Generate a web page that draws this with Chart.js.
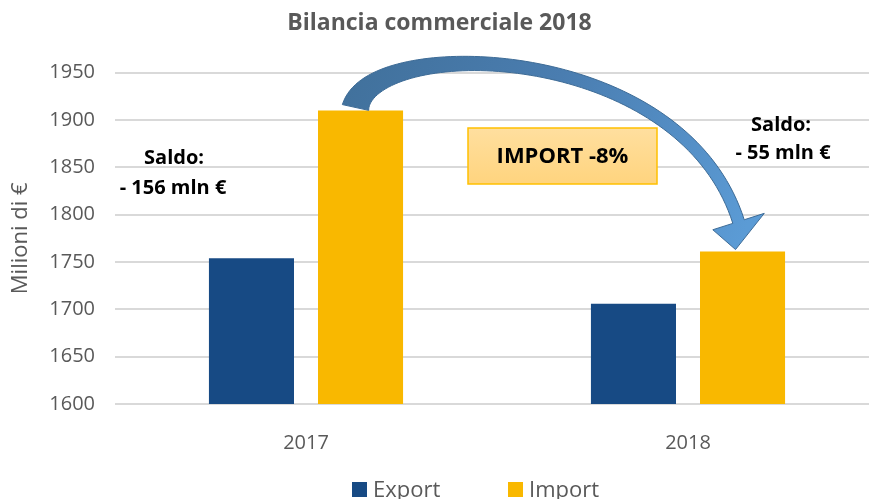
<!DOCTYPE html>
<html lang="it">
<head>
    <meta charset="utf-8">
    <title>Bilancia commerciale 2018</title>
    <style>
        html, body { margin: 0; padding: 0; background: #fff; overflow: hidden; }
        #wrap { width: 880px; height: 499px; }
    </style>
</head>
<body>
    <div id="wrap">
        <canvas id="myChart" width="880" height="499"></canvas>
    </div>

    <script src="https://cdn.jsdelivr.net/npm/chart.js"></script>
    <script>
        // dati
        const anni = ['2017', '2018'];
        const exportVal = [1754, 1706];
        const importVal = [1910, 1761];
        const serie = ['Export', 'Import'];
        const colori = ['#174A84', '#F9B800'];
        const saldoTesti = [['Saldo:', '- 156 mln €'], ['Saldo:', '- 55 mln €']];
        const boxTesto = 'IMPORT -8%';

        const grigio = '#595959';
        const fontBase = "'Open Sans', sans-serif";

        function bez(p0, p1, p2, p3, t) {
            const u = 1 - t;
            return {
                x: u*u*u*p0.x + 3*u*u*t*p1.x + 3*u*t*t*p2.x + t*t*t*p3.x,
                y: u*u*u*p0.y + 3*u*u*t*p1.y + 3*u*t*t*p2.y + t*t*t*p3.y
            };
        }
        function bezD(p0, p1, p2, p3, t) {
            const u = 1 - t;
            return {
                x: 3*u*u*(p1.x-p0.x) + 6*u*t*(p2.x-p1.x) + 3*t*t*(p3.x-p2.x),
                y: 3*u*u*(p1.y-p0.y) + 6*u*t*(p2.y-p1.y) + 3*t*t*(p3.y-p2.y)
            };
        }

        // freccia curva + testi + legenda
        const overlay = {
            id: 'overlay',
            afterDatasetsDraw(chart) {
                const ctx = chart.ctx;
                const bars = chart.getDatasetMeta(1).data;
                const tail = { x: bars[0].x - 5, y: bars[0].y - 3 };
                const tip = { x: bars[1].x - 7, y: bars[1].y - 2 };
                const base = { x: tip.x + 3, y: tip.y - 28 };
                const p1 = { x: tail.x + 16, y: tail.y - 73 };
                const p2 = { x: base.x - 58, y: tail.y - 68 };

                const n = 80;
                const left = [], right = [];
                let lastN;
                for (let i = 0; i <= n; i++) {
                    const t = i / n;
                    const p = bez(tail, p1, p2, base, t);
                    const d = bezD(tail, p1, p2, base, t);
                    const len = Math.hypot(d.x, d.y);
                    const nx = -d.y / len, ny = d.x / len;
                    const w = (12 + 15 * Math.pow(1 - t, 4)) / 2;
                    left.push({ x: p.x + nx * w, y: p.y + ny * w });
                    right.push({ x: p.x - nx * w, y: p.y - ny * w });
                    lastN = { x: nx, y: ny };
                }
                ctx.save();
                ctx.beginPath();
                ctx.moveTo(left[0].x, left[0].y);
                left.forEach(p => ctx.lineTo(p.x, p.y));
                ctx.lineTo(base.x + lastN.x * 27, base.y + lastN.y * 27);
                ctx.lineTo(tip.x, tip.y);
                ctx.lineTo(base.x - lastN.x * 27, base.y - lastN.y * 27);
                for (let i = right.length - 1; i >= 0; i--) ctx.lineTo(right[i].x, right[i].y);
                ctx.closePath();
                const g = ctx.createLinearGradient(tail.x, 60, tip.x, tip.y);
                g.addColorStop(0, '#41719C');
                g.addColorStop(0.45, '#4A7DB0');
                g.addColorStop(1, '#5B9BD5');
                ctx.fillStyle = g;
                ctx.fill();
                ctx.strokeStyle = '#3D6B96';
                ctx.lineWidth = 1;
                ctx.stroke();
                ctx.restore();
            },
            afterDraw(chart) {
                const ctx = chart.ctx;
                const x = chart.scales.x;
                ctx.save();
                ctx.textAlign = 'center';
                ctx.textBaseline = 'middle';
                ctx.fillStyle = '#000';
                ctx.font = "bold 20px " + fontBase;
                // saldo 2017 e 2018
                const c0 = x.getPixelForValue(0), c1 = x.getPixelForValue(1);
                ctx.fillText(saldoTesti[0][0], c0 - 132, 158);
                ctx.fillText(saldoTesti[0][1], c0 - 133, 188);
                ctx.fillText(saldoTesti[1][0], c1 + 93, 125);
                ctx.fillText(saldoTesti[1][1], c1 + 95, 153);

                // box IMPORT
                const bx = 468, by = 128, bw = 189, bh = 56;
                const g = ctx.createLinearGradient(0, by, 0, by + bh);
                g.addColorStop(0, '#FFDF9F');
                g.addColorStop(1, '#FFD47E');
                ctx.fillStyle = g;
                ctx.fillRect(bx, by, bw, bh);
                ctx.strokeStyle = '#FFC000';
                ctx.lineWidth = 1.5;
                ctx.strokeRect(bx, by, bw, bh);
                ctx.fillStyle = '#000';
                ctx.font = "bold 22px " + fontBase;
                ctx.fillText(boxTesto, bx + bw / 2, by + bh / 2 + 1);

                // legenda
                const lx = [352, 508];
                ctx.textAlign = 'left';
                ctx.textBaseline = 'alphabetic';
                ctx.font = "22px " + fontBase;
                serie.forEach((s, i) => {
                    ctx.fillStyle = colori[i];
                    ctx.fillRect(lx[i], 482, 15, 15);
                    ctx.fillStyle = grigio;
                    ctx.fillText(s, lx[i] + 21, 497);
                });
                ctx.restore();
            }
        };

        const config = {
            type: 'bar',
            data: {
                labels: anni,
                datasets: [{
                    label: serie[0],
                    data: exportVal,
                    backgroundColor: colori[0],
                    categoryPercentage: 0.571,
                    barPercentage: 0.78
                }, {
                    label: serie[1],
                    data: importVal,
                    backgroundColor: colori[1],
                    categoryPercentage: 0.571,
                    barPercentage: 0.78
                }]
            },
            options: {
                responsive: false,
                animation: false,
                layout: { padding: { left: 0, right: 1, top: 0, bottom: 0 } },
                plugins: {
                    legend: { display: false },
                    tooltip: { enabled: false },
                    title: {
                        display: true,
                        text: 'Bilancia commerciale 2018',
                        color: grigio,
                        font: { family: fontBase, size: 23, weight: 'bold' },
                        padding: { top: 10, bottom: 35 }
                    }
                },
                scales: {
                    x: {
                        grid: { display: false },
                        border: { display: false },
                        ticks: { color: grigio, font: { family: fontBase, size: 20 }, padding: 19 },
                        afterFit(s) { s.height = 95; }
                    },
                    y: {
                        min: 1600,
                        max: 1950,
                        ticks: {
                            stepSize: 50,
                            color: grigio,
                            font: { family: fontBase, size: 20 },
                            padding: 20,
                            callback: v => String(v)
                        },
                        grid: { color: '#D9D9D9', lineWidth: 2, drawTicks: false },
                        border: { display: false },
                        title: {
                            display: true,
                            text: 'Milioni di €',
                            color: grigio,
                            font: { family: fontBase, size: 22 },
                            padding: { top: 8, bottom: 0 }
                        },
                        afterFit(s) { s.width = 115; }
                    }
                }
            },
            plugins: [overlay]
        };

        const chartCtx = document.getElementById('myChart').getContext('2d');
        const myChart = new Chart(chartCtx, config);
    </script>
</body>
</html>
